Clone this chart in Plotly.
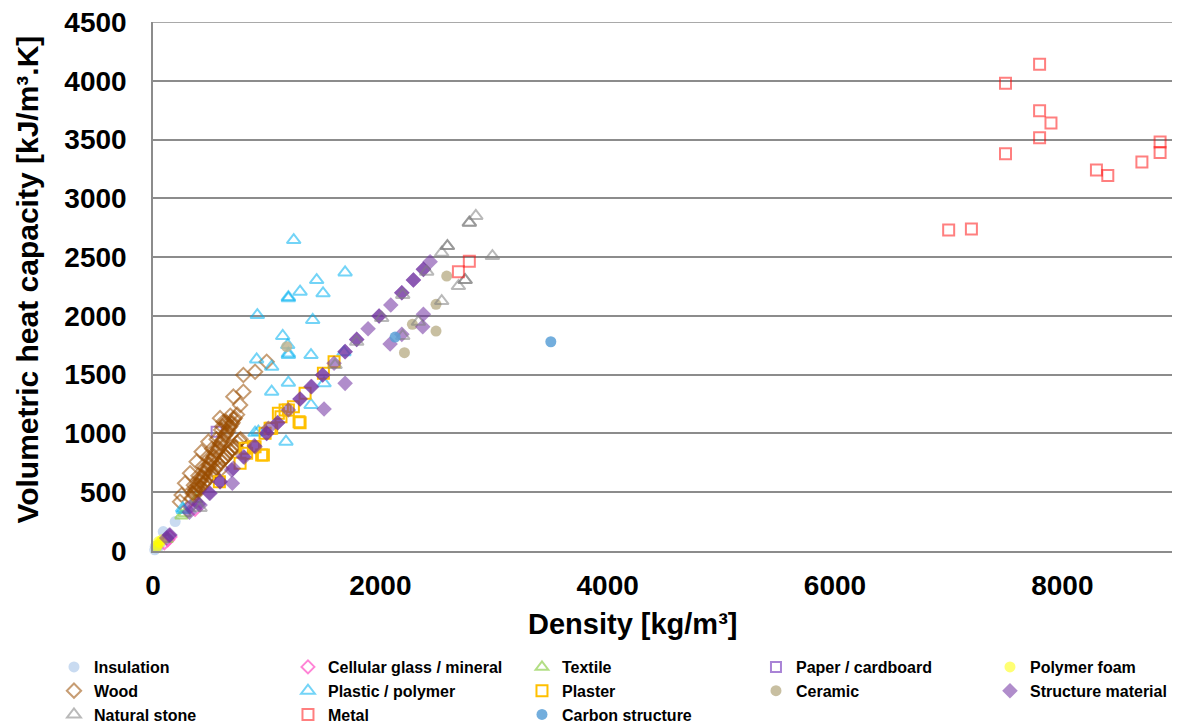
import plotly.graph_objects as go

# ---------------- data ----------------
insulation_x = [15, 30, 20, 60, 45, 90, 195]
insulation_y = [10, 25, 40, 55, 30, 165, 250]

cellular_x = [100, 130, 150, 370]
cellular_y = [70, 95, 120, 355]

textile_x = [120, 250, 280, 380]
textile_y = [100, 300, 320, 440]

paper_x = [560]
paper_y = [1015]

foam_x = [30, 40, 50, 60, 80]
foam_y = [30, 50, 80, 70, 95]

wood_x = [340, 360, 380, 400, 420, 440, 460, 480, 500, 520, 540, 560, 580, 600, 620, 640, 660, 680, 700, 720, 740,
          350, 370, 390, 410, 430, 450, 470, 490, 510, 530, 550, 570, 590, 610, 630, 650, 670, 690, 710,
          360, 400, 440, 480, 520, 560, 600, 640, 680, 590, 620, 610, 650,
          380, 420, 460, 500, 540, 580, 620, 660, 700, 740, 770,
          400, 440, 480, 520, 560, 600, 640, 680, 720, 760,
          1000, 898, 795, 795, 707, 766, 487, 428, 384, 326, 282, 252, 238, 600, 520, 640, 730]
wood_y = [450, 490, 520, 560, 600, 630, 670, 700, 740, 780, 810, 850, 880, 920, 950, 990, 1020, 1060, 1090, 1130, 1160,
          490, 520, 560, 590, 630, 660, 700, 730, 770, 800, 840, 870, 910, 940, 980, 1010, 1050, 1080, 1120,
          560, 640, 720, 800, 870, 950, 1030, 1100, 1150, 1130, 1100, 1060, 1090,
          490, 540, 590, 640, 690, 740, 780, 830, 870, 920, 950,
          520, 570, 610, 660, 710, 760, 800, 850, 890, 940,
          1610, 1525, 1497, 1355, 1313, 1242, 930, 845, 760, 661, 576, 476, 419, 700, 650, 800, 880]

plastic_x = [1238, 1690, 1440, 1294, 1496, 1191, 1191, 918, 1405, 1141, 1185, 1191, 1191, 1390, 912, 1044, 1191,
             1505, 1044, 1390, 927, 1170, 898, 261, 267, 1680]
plastic_y = [2645, 2370, 2305, 2206, 2192, 2149, 2160, 2007, 1965, 1829, 1752, 1667, 1680, 1667, 1630, 1568, 1432,
             1426, 1355, 1242, 1015, 930, 1006, 363, 349, 1690]

plaster_x = [1593, 1499, 1338, 1235, 1294, 1162, 1030, 898, 956, 810, 766, 584, 1191, 1126, 1044, 986, 883, 824,
             971, 1103, 1285]
plaster_y = [1610, 1511, 1341, 1228, 1091, 1199, 1044, 887, 817, 873, 746, 590, 1199, 1142, 1044, 1001, 887, 831,
             817, 1171, 1100]

ceramic_x = [2584, 2490, 2282, 2490, 2212, 1176]
ceramic_y = [2339, 2098, 1928, 1871, 1687, 1738]

structure_x = [143, 320, 399, 496, 590, 692, 804, 892, 1000, 1097, 1191, 1294, 1396, 1493, 1593, 1690, 1792, 1892,
               1989, 2092, 2189, 2291, 2379, 2438,
               1294, 1493, 1792, 1989, 2189, 2379, 1097, 590, 1000, 1690, 2291,
               2379, 2373, 2189, 2086, 1690, 1505, 698, 898, 414, 326, 502, 707, 795, 150, 120, 1390, 1015]
structure_y = [136, 330, 400, 491, 590, 689, 797, 896, 1001, 1091, 1199, 1293, 1398, 1497, 1597, 1696, 1800, 1891,
               1999, 2092, 2197, 2305, 2396, 2461,
               1293, 1497, 1800, 1999, 2197, 2396, 1091, 590, 1001, 1696, 2305,
               2014, 1908, 1843, 1761, 1426, 1208, 576, 887, 391, 377, 491, 703, 802, 136, 110, 1398, 1044]

stone_x = [2840, 2783, 2783, 2590, 2590, 2540, 2986, 2746, 2746, 2687, 2540, 2335, 2197, 2408, 2197, 2012, 1792,
           1602, 414]
stone_y = [2850, 2793, 2793, 2594, 2594, 2537, 2509, 2305, 2305, 2254, 2126, 1950, 1829, 2376, 2178, 1982, 1780,
           1582, 366]

metal_x = [7800, 7500, 7800, 7900, 7800, 7500, 8300, 8400, 8700, 8860, 8860, 7000, 7200, 2783, 2687]
metal_y = [4140, 3980, 3745, 3640, 3515, 3380, 3240, 3195, 3310, 3480, 3390, 2730, 2740, 2464, 2376]

carbon_x = [2130, 3500]
carbon_y = [1820, 1780]

y_max = 4500

# ---------------- figure ----------------
BOLD = "Liberation Sans, Arial, sans-serif"

series = [
    ("Insulation", insulation_x, insulation_y, "circle", "rgba(157,190,230,0.55)", True, 11),
    ("Cellular glass / mineral", cellular_x, cellular_y, "diamond-open", "rgba(255,90,200,0.75)", False, 10),
    ("Textile", textile_x, textile_y, "triangle-up-open", "rgba(146,208,80,0.7)", False, 11),
    ("Paper / cardboard", paper_x, paper_y, "square-open", "rgba(140,90,200,0.75)", False, 10),
    ("Polymer foam", foam_x, foam_y, "circle", "rgba(255,255,0,0.55)", True, 11),
    ("Wood", wood_x, wood_y, "diamond-open", "rgba(153,76,0,0.55)", False, 11),
    ("Plastic / polymer", plastic_x, plastic_y, "triangle-up-open", "rgba(0,176,240,0.55)", False, 12),
    ("Plaster", plaster_x, plaster_y, "square-open", "rgb(255,192,0)", False, 11),
    ("Ceramic", ceramic_x, ceramic_y, "circle", "rgba(190,180,145,0.85)", True, 11),
    ("Structure material", structure_x, structure_y, "diamond", "rgba(112,48,160,0.55)", True, 12),
    ("Natural stone", stone_x, stone_y, "triangle-up-open", "rgba(128,128,128,0.55)", False, 12),
    ("Metal", metal_x, metal_y, "square-open", "rgba(255,0,0,0.5)", False, 11),
    ("Carbon structure", carbon_x, carbon_y, "circle", "rgba(91,160,215,0.85)", True, 11),
]

fig = go.Figure()
for name, xs, ys, sym, col, filled, size in series:
    if filled:
        marker = dict(symbol=sym, size=size, color=col, line=dict(width=0))
    else:
        marker = dict(symbol=sym, size=size, color=col, line=dict(width=2, color=col))
    fig.add_trace(go.Scatter(x=xs, y=ys, mode="markers", name=name, marker=marker, cliponaxis=False))

GRID = "#8c8c8c"
fig.update_layout(
    width=1172, height=720, autosize=False,
    margin=dict(l=145, r=4, t=14, b=177, autoexpand=False),
    paper_bgcolor="white", plot_bgcolor="white",
    font=dict(family=BOLD, color="black"),
    xaxis=dict(range=[0, 9000], dtick=2000, tick0=0, showgrid=False, zeroline=False, automargin=False,
               showline=True, linecolor=GRID, linewidth=1.5, ticks="",
               ticklabelstandoff=9, ticklabeloverflow="allow",
               tickfont=dict(family=BOLD, size=28, weight="bold", color="black")),
    yaxis=dict(range=[0, y_max], dtick=500, tick0=0, showgrid=True, gridcolor=GRID, gridwidth=1.5,
               zeroline=False, showline=True, linecolor=GRID, linewidth=1.5, ticks="", automargin=False,
               ticklabelstandoff=19, ticklabeloverflow="allow",
               tickfont=dict(family=BOLD, size=28, weight="bold", color="black")),
    legend=dict(orientation="h", x=-0.0968, xanchor="left",
                y=-0.1871, yanchor="top",
                entrywidth=189, entrywidthmode="pixels", traceorder="normal",
                font=dict(family=BOLD, size=16, weight="bold", color="black"),
                bgcolor="rgba(0,0,0,0)", itemsizing="trace"),
    showlegend=True,
    shapes=[
        dict(type="line", xref="paper", yref="y", x0=0, x1=1, y0=y_max, y1=y_max,
             line=dict(color=GRID, width=1.5), layer="below"),
    ],
    annotations=[
        dict(text="Density [kg/m³]", xref="paper", yref="paper", x=0.469, y=-0.138,
             xanchor="center", yanchor="middle", showarrow=False,
             font=dict(family=BOLD, size=29, weight="bold", color="black")),
        dict(text="Volumetric heat capacity [kJ/m³.K]", xref="paper", yref="paper", x=-0.1222, y=0.513,
             xanchor="center", yanchor="middle", textangle=-90, showarrow=False,
             font=dict(family=BOLD, size=30, weight="bold", color="black")),
    ],
)

fig.write_html("out.html")
